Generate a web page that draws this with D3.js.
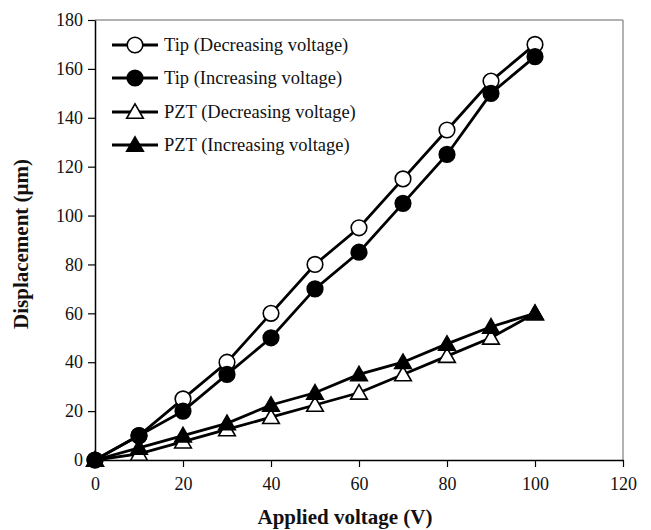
<!DOCTYPE html>
<html><head><meta charset="utf-8">
<script src="https://cdn.jsdelivr.net/npm/d3@7"></script>
<style>body{margin:0;background:#fff}</style>
</head><body>
<svg id="c" width="651" height="530"></svg>
<script>
const voltage = [0,10,20,30,40,50,60,70,80,90,100];
const tipDecreasing = [0,10,25,40,60,80,95,115,135,155,170];
const tipIncreasing = [0,10,20,35,50,70,85,105,125,150,165];
const pztDecreasing = [0,2.5,7.5,12.5,17.5,22.5,27.5,35,42.5,50,60];
const pztIncreasing = [0,5,10,15,22.5,27.5,35,40,47.5,54.5,60];
const seriesNames = ["Tip (Decreasing voltage)","Tip (Increasing voltage)","PZT (Decreasing voltage)","PZT (Increasing voltage)"];
const xTicks = [0,20,40,60,80,100,120];
const yTicks = [0,20,40,60,80,100,120,140,160,180];

const series = [
  {name:seriesNames[0], vals:tipDecreasing, shape:"circle", fill:"#fff"},
  {name:seriesNames[1], vals:tipIncreasing, shape:"circle", fill:"#000"},
  {name:seriesNames[2], vals:pztDecreasing, shape:"triangle", fill:"#fff"},
  {name:seriesNames[3], vals:pztIncreasing, shape:"triangle", fill:"#000"}
];

const svg = d3.select("#c");
const L=95, R=623, T=20, B=460;
const x = d3.scaleLinear().domain([0,120]).range([L,R]);
const y = d3.scaleLinear().domain([0,180]).range([B,T]);
const font = "'Liberation Serif','Times New Roman',serif";

// frame
svg.append("line").attr("x1",L).attr("x2",R).attr("y1",T).attr("y2",T).attr("stroke","#999").attr("stroke-width",1.5);
svg.append("line").attr("x1",R).attr("x2",R).attr("y1",T).attr("y2",B).attr("stroke","#999").attr("stroke-width",1.5);

const xAxis = svg.append("g").attr("transform",`translate(0,${B})`)
  .call(d3.axisBottom(x).tickValues(xTicks).tickSize(7).tickPadding(10).tickSizeOuter(0));
const yAxis = svg.append("g").attr("transform",`translate(${L},0)`)
  .call(d3.axisLeft(y).tickValues(yTicks).tickSize(7).tickPadding(5).tickSizeOuter(0));
[xAxis,yAxis].forEach(a=>{
  a.selectAll("path").attr("stroke","#000").attr("stroke-width",1.5);
  a.selectAll("line").attr("stroke","#000").attr("stroke-width",1.2);
  a.selectAll("text").attr("font-family",font).attr("font-size",18).attr("fill","#111");
});

svg.append("text").attr("x",345).attr("y",524).attr("text-anchor","middle")
  .attr("font-family",font).attr("font-weight","bold").attr("font-size",21).attr("fill","#111").text("Applied voltage (V)");
svg.append("text").attr("transform",`translate(28,${244}) rotate(-90)`).attr("text-anchor","middle")
  .attr("font-family",font).attr("font-weight","bold").attr("font-size",21).attr("fill","#111").text("Displacement (μm)");

const line = d3.line().x((d,i)=>x(voltage[i])).y(d=>y(d));
const tri = d3.symbol().type(d3.symbolTriangle).size(120);

function marker(g, shape, fill, cx, cy){
  if(shape==="circle"){
    g.append("circle").attr("cx",cx).attr("cy",cy).attr("r",7.8)
      .attr("fill",fill).attr("stroke","#000").attr("stroke-width",1.6);
  } else {
    g.append("path").attr("d",tri).attr("transform",`translate(${cx},${cy+1.5})`)
      .attr("fill",fill).attr("stroke","#000").attr("stroke-width",1.6);
  }
}

series.forEach(s=>{
  const g = svg.append("g");
  g.append("path").datum(s.vals).attr("d",line).attr("fill","none").attr("stroke","#000").attr("stroke-width",2.8);
  s.vals.forEach((v,i)=>marker(g,s.shape,s.fill,x(voltage[i]),y(v)));
});

// legend
const legY = [45,78,112,145];
series.forEach((s,i)=>{
  const g = svg.append("g");
  g.append("line").attr("x1",112).attr("x2",158).attr("y1",legY[i]).attr("y2",legY[i]).attr("stroke","#000").attr("stroke-width",2.8);
  marker(g,s.shape,s.fill,135,legY[i]);
  g.append("text").attr("x",164).attr("y",legY[i]+6).attr("font-family",font).attr("font-size",18.5).attr("fill","#111").text(s.name);
});
</script>
</body></html>
